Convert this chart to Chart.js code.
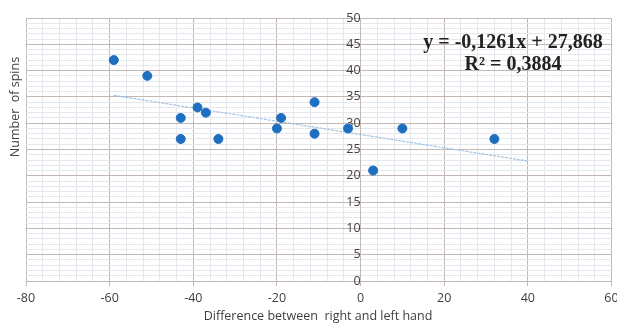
<!DOCTYPE html>
<html>
<head>
<meta charset="utf-8">
<script src="https://cdn.jsdelivr.net/npm/chart.js@4"></script>
<style>
html,body{margin:0;padding:0;background:#fff;}
#wrap{position:relative;width:617px;height:324px;}
</style>
</head>
<body>
<div id="wrap"><canvas id="c" width="617" height="324"></canvas></div>
<script>
// Data
const diffX = [-59, -51, -43, -43, -39, -37, -34, -20, -19, -11, -11, -3, 3, 10, 32];
const spinsY = [42, 39, 31, 27, 33, 32, 27, 29, 31, 34, 28, 29, 21, 29, 27];
const trendX = [-59, 40];
const trendY = [35.3, 22.8];
const xTickLabels = [-80, -60, -40, -20, 0, 20, 40, 60];
const yTickLabels = [0, 5, 10, 15, 20, 25, 30, 35, 40, 45, 50];
const equationLines = ['y = -0,1261x + 27,868', 'R\u00B2 = 0,3884'];
const xTitle = 'Difference between  right and left hand';
const yTitle = 'Number  of spins';

const MAJOR = '#c4b8b4';
const MINOR = '#e5e7ec';

const points = diffX.map((x, i) => ({x: x, y: spinsY[i]}));
const trend = trendX.map((x, i) => ({x: x, y: trendY[i]}));

const textPlugin = {
  id: 'texts',
  afterDraw(chart) {
    const ctx = chart.ctx;
    ctx.save();
    ctx.fillStyle = '#404040';
    ctx.font = '12.5px "Open Sans"';
    ctx.textAlign = 'center';
    ctx.textBaseline = 'middle';
    ctx.fillText(xTitle, 318, 316);
    ctx.translate(15, 107);
    ctx.rotate(-Math.PI / 2);
    ctx.fillText(yTitle, 0, 0);
    ctx.restore();

    ctx.save();
    ctx.fillStyle = '#222';
    ctx.font = 'bold 20px "Liberation Serif"';
    ctx.textAlign = 'center';
    ctx.textBaseline = 'middle';
    ctx.fillText(equationLines[0], 513, 43);
    ctx.fillText(equationLines[1], 513, 65);
    ctx.restore();
  }
};

new Chart(document.getElementById('c'), {
  type: 'scatter',
  data: {
    datasets: [
      {
        label: 'Spins',
        data: points,
        backgroundColor: '#1f6fc0',
        borderColor: '#1f6fc0',
        pointRadius: 4.5,
        pointHoverRadius: 4.5,
        order: 1
      },
      {
        label: 'Trend',
        type: 'line',
        data: trend,
        borderColor: 'rgba(150,190,230,0.9)',
        borderWidth: 1.2,
        borderDash: [3, 1],
        pointRadius: 0,
        fill: false,
        order: 2
      }
    ]
  },
  plugins: [textPlugin],
  options: {
    responsive: false,
    animation: false,
    events: [],
    layout: {padding: {left: 26, top: 18, right: 2, bottom: 0}},
    plugins: {legend: {display: false}, tooltip: {enabled: false}},
    scales: {
      x: {
        type: 'linear',
        position: 'bottom',
        min: -80, max: 60,
        afterFit(s) { s.height = 43; s.paddingLeft = 0; s.paddingRight = 0; },
        afterBuildTicks(s) {
          const t = [];
          for (let v = -80; v <= 60; v += 4) t.push({value: v});
          s.ticks = t;
        },
        ticks: {
          autoSkip: false, maxRotation: 0, padding: 5,
          color: '#404040',
          font: {family: '"Open Sans"', size: 12.5},
          callback: v => xTickLabels.includes(v) ? String(v) : ''
        },
        grid: {
          color: c => (c.tick && xTickLabels.includes(c.tick.value)) ? MAJOR : MINOR,
          tickColor: c => (c.tick && xTickLabels.includes(c.tick.value)) ? MAJOR : 'rgba(0,0,0,0)',
          tickLength: 5,
          lineWidth: 1
        },
        border: {color: MAJOR}
      },
      y: {
        type: 'linear',
        position: {x: 0},
        min: 0, max: 50,
        afterFit(s) { s.paddingTop = 0; s.paddingBottom = 0; s.paddingLeft = 0; s.paddingRight = 0; },
        afterBuildTicks(s) {
          const t = [];
          for (let v = 0; v <= 50; v += 1) t.push({value: v});
          s.ticks = t;
        },
        ticks: {
          autoSkip: false, padding: 3,
          color: '#404040',
          font: {family: '"Open Sans"', size: 12.5},
          callback: v => yTickLabels.includes(v) ? String(v) : ''
        },
        grid: {
          color: c => (c.tick && yTickLabels.includes(c.tick.value)) ? MAJOR : MINOR,
          tickColor: c => (c.tick && yTickLabels.includes(c.tick.value)) ? MAJOR : 'rgba(0,0,0,0)',
          tickLength: 7,
          lineWidth: 1
        },
        border: {color: MAJOR}
      }
    }
  }
});
</script>
</body>
</html>
